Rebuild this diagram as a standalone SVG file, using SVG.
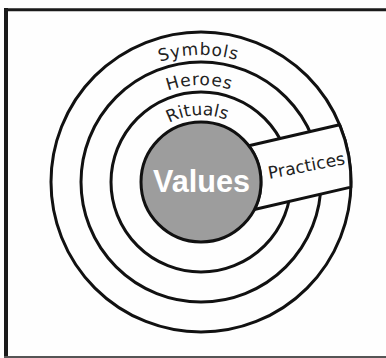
<svg xmlns="http://www.w3.org/2000/svg" width="386" height="358" viewBox="0 0 386 358">
  <defs>
    <style>
      .ring { fill: none; stroke: #111; stroke-width: 3; }
      .lbl { font-family: "DejaVu Sans", "Liberation Sans", sans-serif; font-size: 17px; fill: #222; text-anchor: middle; }
      .frame { stroke: #1a1a1a; fill: none; }
    </style>
    <path id="arcSymbols" d="M 74,182 A 127 127 0 0 1 328,182"/>
    <path id="arcHeroes" d="M 104,182 A 97 97 0 0 1 298,182"/>
    <path id="arcRituals" d="M 134,182 A 67 67 0 0 1 268,182"/>
  </defs>
  <rect x="0" y="0" width="386" height="358" fill="#fefefe"/>
  <g id="frame">
    <line class="frame" x1="6" y1="8" x2="6" y2="358" stroke-width="4"/>
    <line class="frame" x1="4" y1="9.7" x2="386" y2="9.7" stroke-width="3"/>
    <line x1="4" y1="357" x2="386" y2="357" stroke="#555" stroke-width="2"/>
  </g>
  <g id="symbols">
    <circle class="ring" cx="201" cy="182" r="150"/>
    <text class="lbl" letter-spacing="0.9"><textPath href="#arcSymbols" startOffset="197">Symbols</textPath></text>
  </g>
  <g id="heroes">
    <circle class="ring" cx="201" cy="182" r="120"/>
    <text class="lbl" letter-spacing="0.8"><textPath href="#arcHeroes" startOffset="150.5">Heroes</textPath></text>
  </g>
  <g id="rituals">
    <circle class="ring" cx="201" cy="182" r="90"/>
    <text class="lbl" letter-spacing="0.2"><textPath href="#arcRituals" startOffset="101.5">Rituals</textPath></text>
  </g>
  <g id="practices">
    <path d="M 248.8,145.8 L 339.6,124.7 A 150 150 0 0 1 350.9,187.1 L 254.3,209.5 A 60 60 0 0 0 248.8,145.8 Z" fill="#fefefe" stroke="#111" stroke-width="3" stroke-linejoin="round"/>
    <text class="lbl" x="307.5" y="171.5" font-size="16" textLength="78" lengthAdjust="spacing" transform="rotate(-11 307.5 171.5)">Practices</text>
  </g>
  <g id="values">
    <circle cx="201" cy="182" r="60" fill="#9d9d9d" stroke="#111" stroke-width="3"/>
    <text x="201.5" y="192" font-family="'Liberation Sans', Arial, sans-serif" font-size="32" font-weight="bold" fill="#fff" text-anchor="middle" textLength="97" lengthAdjust="spacingAndGlyphs">Values</text>
  </g>
  <g id="connectors"></g>
</svg>
